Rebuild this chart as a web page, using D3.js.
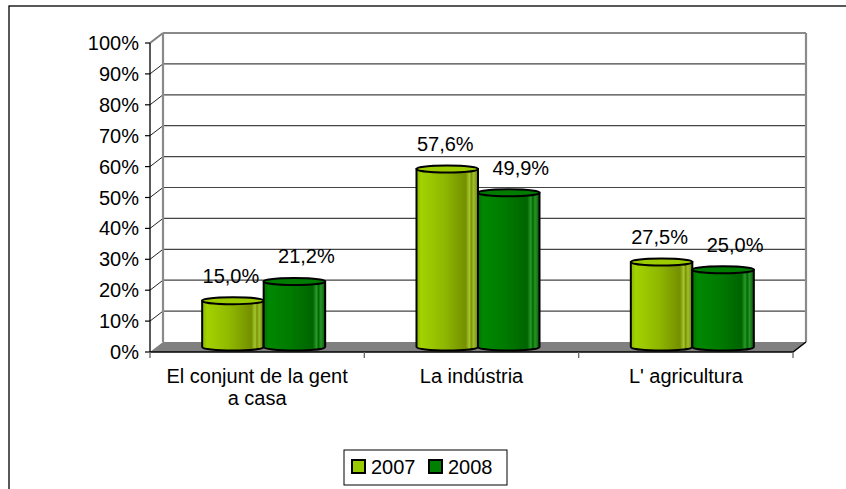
<!DOCTYPE html>
<html>
<head>
<meta charset="utf-8">
<script src="https://cdn.jsdelivr.net/npm/d3@7"></script>
<style>
  body { margin: 0; background: #fff; }
  text { font-family: Arial, "Liberation Sans", sans-serif; fill: #000; }
</style>
</head>
<body>
<div id="canvas"></div>
<script>
const categories = ["El conjunt de la gent a casa", "La indústria", "L' agricultura"];
const categoryLines = [["El conjunt de la gent", "a casa"], ["La indústria"], ["L' agricultura"]];
const seriesNames = ["2007", "2008"];
const values2007 = [15.0, 57.6, 27.5];
const values2008 = [21.2, 49.9, 25.0];
const yTicks = [0, 10, 20, 30, 40, 50, 60, 70, 80, 90, 100];

const svgWidth = 846;
const svgHeight = 489;
const depthX = 13, depthY = -10;   // 3d offset, front -> back wall

const svg = d3.select("#canvas").append("svg")
    .attr("width", svgWidth)
    .attr("height", svgHeight);

// outer frame (right and bottom edges sit outside the picture)
svg.append("rect")
    .attr("x", 9).attr("y", 6)
    .attr("width", 860).attr("height", 500)
    .attr("fill", "none").attr("stroke", "#000").attr("stroke-width", 1.3);

const y = d3.scaleLinear().domain([0, 100]).range([352, 43]);
const x = d3.scaleBand().domain(categories).range([150, 793]);
const xs = d3.scaleBand().domain(seriesNames).range([0, 123]);

const x0 = x.range()[0], x1 = x.range()[1];

// floor
svg.append("path")
    .attr("d", `M${x0},${y(0)} L${x1},${y(0)} L${x1 + depthX},${y(0) + depthY} L${x0 + depthX},${y(0) + depthY} Z`)
    .attr("fill", "#808080").attr("stroke", "none");

// back wall grid lines
svg.append("g").selectAll("line")
    .data(yTicks.slice(1, -1))
    .enter().append("line")
    .attr("x1", x0 + depthX).attr("x2", x1 + depthX)
    .attr("y1", d => y(d) + depthY).attr("y2", d => y(d) + depthY)
    .attr("stroke", "#444").attr("stroke-width", 1.2);

// side wall diagonals
svg.append("g").selectAll("line")
    .data(yTicks.slice(1))
    .enter().append("line")
    .attr("x1", x0).attr("y1", d => y(d))
    .attr("x2", x0 + depthX).attr("y2", d => y(d) + depthY)
    .attr("stroke", d => d == 100 ? "#808080" : "#222")
    .attr("stroke-width", d => d == 100 ? 2 : 1);

// back wall frame: top, left, right
const wallFrame = [
    [x0 + depthX, y(100) + depthY, x1 + depthX, y(100) + depthY],
    [x0 + depthX, y(100) + depthY, x0 + depthX, y(0) + depthY],
    [x1 + depthX, y(100) + depthY, x1 + depthX, y(0) + depthY]
];
svg.append("g").selectAll("line")
    .data(wallFrame)
    .enter().append("line")
    .attr("x1", d => d[0]).attr("y1", d => d[1])
    .attr("x2", d => d[2]).attr("y2", d => d[3])
    .attr("stroke", "#8a8a8a").attr("stroke-width", 2.2);

// floor front & right edges
svg.append("path")
    .attr("d", `M${x0},${y(0)} L${x1},${y(0)} L${x1 + depthX},${y(0) + depthY}`)
    .attr("fill", "none").attr("stroke", "#000").attr("stroke-width", 1.5);

// gradients for the cylinders
const defs = svg.append("defs");
const bodyStops = {
    "2007": [[0, "#88b800"], [0.08, "#a2d200"], [0.45, "#8fb800"], [0.8, "#748f00"], [0.86, "#a6c830"], [0.89, "#7a9400"], [0.93, "#a0be30"], [1, "#6a8200"]],
    "2008": [[0, "#007000"], [0.08, "#008800"], [0.45, "#007a00"], [0.8, "#006400"], [0.86, "#2a9a2a"], [0.89, "#006800"], [0.93, "#2a922a"], [1, "#005a00"]]
};
const topFill = { "2007": "#9ccc00", "2008": "#007c00" };
const legendFill = { "2007": "#99cc00", "2008": "#008000" };

seriesNames.forEach(s => {
    const g = defs.append("linearGradient").attr("id", "grad" + s)
        .attr("x1", "0%").attr("x2", "100%").attr("y1", "0%").attr("y2", "0%");
    g.selectAll("stop").data(bodyStops[s]).enter().append("stop")
        .attr("offset", d => d[0]).attr("stop-color", d => d[1]);
});

// bars as cylinders, placed at mid depth
const bars = [];
categories.forEach((c, i) => {
    bars.push({ cat: c, s: "2007", v: values2007[i] });
    bars.push({ cat: c, s: "2008", v: values2008[i] });
});

const midX = depthX / 2, midY = depthY / 2;
const ry = 3.5;
const groupPad = (x.bandwidth() - 123) / 2;

const bar = svg.append("g").selectAll("g")
    .data(bars)
    .enter().append("g");

function barLeft(d) { return x(d.cat) + groupPad + xs(d.s) + midX; }
const bw = xs.bandwidth();

bar.append("path")
    .attr("d", d => {
        const l = barLeft(d), r = l + bw;
        const top = y(d.v) + midY, bot = y(0) + midY;
        return `M${l},${top} L${l},${bot} A${bw / 2},${ry} 0 0 0 ${r},${bot} L${r},${top} Z`;
    })
    .attr("fill", d => `url(#grad${d.s})`)
    .attr("stroke", "#000").attr("stroke-width", 2);

bar.append("ellipse")
    .attr("cx", d => barLeft(d) + bw / 2)
    .attr("cy", d => y(d.v) + midY)
    .attr("rx", bw / 2).attr("ry", ry)
    .attr("fill", d => topFill[d.s])
    .attr("stroke", "#000").attr("stroke-width", 2);

// value labels
const fmt = v => d3.format(".1f")(v).replace(".", ",") + "%";
bar.append("text")
    .attr("x", d => barLeft(d) + bw / 2 + (d.s == "2008" ? 12 : -2))
    .attr("y", d => y(d.v) + midY - 18)
    .attr("text-anchor", "middle")
    .attr("font-size", 20)
    .text(d => fmt(d.v));

// y axis
svg.append("line")
    .attr("x1", x0).attr("x2", x0)
    .attr("y1", y(100)).attr("y2", y(0))
    .attr("stroke", "#000").attr("stroke-width", 1.3);

const yAxis = svg.append("g");
yAxis.selectAll("line")
    .data(yTicks)
    .enter().append("line")
    .attr("x1", x0 - 5).attr("x2", x0)
    .attr("y1", d => y(d)).attr("y2", d => y(d))
    .attr("stroke", "#000").attr("stroke-width", 1.2);
yAxis.selectAll("text")
    .data(yTicks)
    .enter().append("text")
    .attr("x", x0 - 11)
    .attr("y", d => y(d) + 7)
    .attr("text-anchor", "end")
    .attr("font-size", 20)
    .text(d => d + "%");

// category ticks and labels
const catTicks = categories.map(c => x(c)).concat([x1]);
svg.append("g").selectAll("line")
    .data(catTicks)
    .enter().append("line")
    .attr("x1", d => d).attr("x2", d => d)
    .attr("y1", y(0)).attr("y2", y(0) + 6)
    .attr("stroke", "#666").attr("stroke-width", 1.3);

const catText = svg.append("g").selectAll("text")
    .data(categories)
    .enter().append("text")
    .attr("x", d => x(d) + x.bandwidth() / 2)
    .attr("y", 383)
    .attr("text-anchor", "middle")
    .attr("font-size", 20);
catText.each(function (d, i) {
    const t = d3.select(this);
    categoryLines[i].forEach((line, k) => {
        t.append("tspan")
            .attr("x", x(d) + x.bandwidth() / 2)
            .attr("dy", k == 0 ? 0 : 22)
            .text(line);
    });
});

// legend
const legend = svg.append("g").attr("transform", "translate(344,450)");
legend.append("rect")
    .attr("width", 163).attr("height", 35)
    .attr("fill", "#fff").attr("stroke", "#000").attr("stroke-width", 1);
const item = legend.selectAll("g.item")
    .data(seriesNames)
    .enter().append("g")
    .attr("transform", (d, i) => `translate(${8 + i * 77},10)`);
item.append("rect")
    .attr("width", 13).attr("height", 13)
    .attr("fill", d => legendFill[d])
    .attr("stroke", "#000").attr("stroke-width", 2);
item.append("text")
    .attr("x", 19).attr("y", 14)
    .attr("font-size", 20)
    .text(d => d);
</script>
</body>
</html>
